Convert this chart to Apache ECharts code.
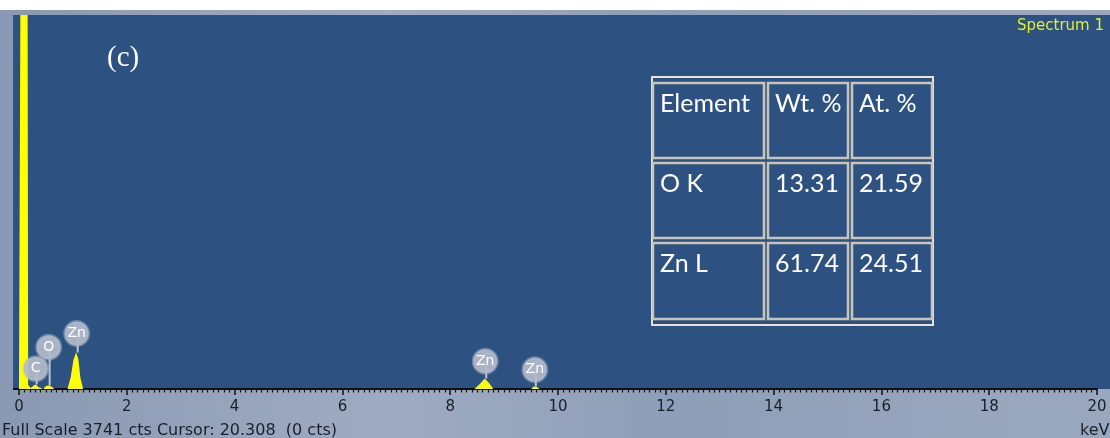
<!DOCTYPE html>
<html>
<head>
    <meta charset="utf-8">
    <title>EDS Spectrum 1</title>
    <script src="https://cdn.jsdelivr.net/npm/echarts@6/dist/echarts.min.js"></script>
    <style type="text/css">
        * {
            margin: 0;
            padding: 0;
        }

        body {
            width: 1110px;
            height: 438px;
            overflow: hidden;
            background: #ffffff;
        }

        #main {
            width: 1110px;
            height: 438px;
            background: linear-gradient(90deg, #8a99b3 0%, #9eabc2 35%, #8f9eb8 60%, #9aa8bf 100%);
        }
    </style>
</head>
<body>
<div id="main"></div>
<script type="text/javascript">
    // spectrum (keV, counts)
    var specKeV = [0, 0.02, 0.025, 0.16, 0.17, 0.22, 0.27, 0.31, 0.36, 0.45, 0.5, 0.55, 0.6, 0.66,
        0.9, 0.96, 1.01, 1.06, 1.1, 1.14, 1.19, 8.45, 8.55, 8.64, 8.72, 8.8, 9.5, 9.55, 9.6, 9.66, 20];
    var specCts = [0, 0, 3741, 3741, 40, 10, 35, 45, 20, 0, 30, 35, 25, 0,
        0, 120, 290, 365, 300, 110, 0, 0, 50, 105, 60, 0, 0, 25, 22, 0, 0];

    // element tags: name, keV, tag height (cts), peak top (cts)
    var tagNames = ['C', 'O', 'Zn', 'Zn', 'Zn'];
    var tagKeV = [0.31, 0.55, 1.07, 8.65, 9.57];
    var tagCts = [202, 418, 555, 278, 192];
    var tagPeak = [45, 35, 365, 105, 25];

    var xLabels = [0, 2, 4, 6, 8, 10, 12, 14, 16, 18, 20];

    var tableHead = ['Element', 'Wt. %', 'At. %'];
    var tableRows = [
        ['O K', '13.31', '21.59'],
        ['Zn L', '61.74', '24.51']
    ];

    var fullScale = 3741;
    var footText = 'Full Scale 3741 cts Cursor: 20.308  (0 cts)';

    var myChart = echarts.init(document.getElementById('main'));

    var specData = [];
    for (var i = 0; i < specKeV.length; i++) {
        specData.push([specKeV[i], specCts[i]]);
    }
    var tagData = [];
    for (var i = 0; i < tagNames.length; i++) {
        tagData.push([tagKeV[i], tagCts[i], tagPeak[i], tagNames[i]]);
    }

    // table drawn as graphic elements
    var colX = [653, 768, 852];
    var colW = [111, 80, 80];
    var rowY = [83, 163, 243];
    var rowH = [75, 75, 76];
    var cells = [{
        type: 'rect',
        shape: {x: 652, y: 77, width: 281, height: 248},
        style: {fill: 'none', stroke: '#e8e4d8', lineWidth: 2},
        z: 100
    }];
    var allRows = [tableHead].concat(tableRows);
    for (var r = 0; r < allRows.length; r++) {
        for (var c = 0; c < 3; c++) {
            cells.push({
                type: 'rect',
                shape: {x: colX[c], y: rowY[r], width: colW[c], height: rowH[r]},
                style: {fill: 'none', stroke: '#c9c5b9', lineWidth: 2.5},
                z: 100
            });
            cells.push({
                type: 'text',
                x: colX[c] + 7,
                y: rowY[r] + 21,
                style: {
                    text: allRows[r][c],
                    fill: '#ffffff',
                    font: '25px Lato',
                    textVerticalAlign: 'middle'
                },
                z: 101
            });
        }
    }

    var graphics = [
        {type: 'rect', shape: {x: 0, y: 0, width: 1110, height: 10}, style: {fill: '#ffffff'}, z: -20},
        {type: 'rect', shape: {x: 13, y: 15, width: 1097, height: 374}, style: {fill: '#2d5282'}, z: -10},
        {type: 'line', shape: {x1: 13, y1: 389, x2: 19, y2: 389}, style: {stroke: '#111111', lineWidth: 2}, z: 50},
        {
            type: 'text', x: 107, y: 58,
            style: {text: '(c)', fill: '#ffffff', font: '29px "Liberation Serif"', textVerticalAlign: 'middle'},
            z: 100
        },
        {
            type: 'text', x: 1104, y: 26,
            style: {text: 'Spectrum 1', fill: '#e2ee2a', font: '15px "DejaVu Sans"', textAlign: 'right', textVerticalAlign: 'middle'},
            z: 100
        },
        {
            type: 'text', x: 2, y: 431,
            style: {text: footText, fill: '#1a1e2a', font: '16px "DejaVu Sans"', textVerticalAlign: 'middle'},
            z: 100
        },
        {
            type: 'text', x: 1080, y: 431,
            style: {text: 'keV', fill: '#1a1e2a', font: '16px "DejaVu Sans"', textVerticalAlign: 'middle'},
            z: 100
        }
    ].concat(cells);

    var option = {
        backgroundColor: 'transparent',
        animation: false,
        grid: {
            left: 19,
            right: 13,
            top: 15,
            bottom: 49
        },
        xAxis: {
            type: 'value',
            min: 0,
            max: 20,
            interval: 2,
            axisLine: {show: true, onZero: false, lineStyle: {color: '#111111', width: 2}},
            axisTick: {show: true, length: 6, lineStyle: {color: '#111111', width: 1.5}},
            minorTick: {show: true, splitNumber: 20, length: 3.5, lineStyle: {color: '#111111', width: 1.2}},
            splitLine: {show: false},
            axisLabel: {
                show: true,
                margin: 11,
                color: '#1a1e2a',
                fontSize: 15,
                fontFamily: 'DejaVu Sans',
                formatter: function (v) {
                    return xLabels.indexOf(v) >= 0 ? String(v) : '';
                }
            }
        },
        yAxis: {
            type: 'value',
            min: 0,
            max: fullScale,
            show: false
        },
        graphic: graphics,
        series: [{
            type: 'line',
            data: specData,
            symbol: 'none',
            lineStyle: {width: 0},
            areaStyle: {color: '#ffff00', opacity: 1},
            z: 3
        }, {
            type: 'custom',
            data: tagData,
            z: 5,
            renderItem: function (params, api) {
                var top = api.coord([api.value(0), api.value(1)]);
                var bot = api.coord([api.value(0), api.value(2)]);
                return {
                    type: 'group',
                    children: [{
                        type: 'line',
                        shape: {x1: top[0] + 1, y1: top[1], x2: top[0] + 1, y2: bot[1]},
                        style: {stroke: '#bcc3cf', lineWidth: 2}
                    }, {
                        type: 'circle',
                        shape: {cx: top[0], cy: top[1], r: 12},
                        style: {fill: 'rgba(180,188,203,0.92)', stroke: 'rgba(180,188,203,0.45)', lineWidth: 3}
                    }, {
                        type: 'text',
                        x: top[0],
                        y: top[1],
                        style: {
                            text: api.value(3),
                            fill: '#ffffff',
                            font: '14px "DejaVu Sans"',
                            textAlign: 'center',
                            textVerticalAlign: 'middle'
                        }
                    }]
                };
            }
        }]
    };

    myChart.setOption(option);
</script>
</body>
</html>
